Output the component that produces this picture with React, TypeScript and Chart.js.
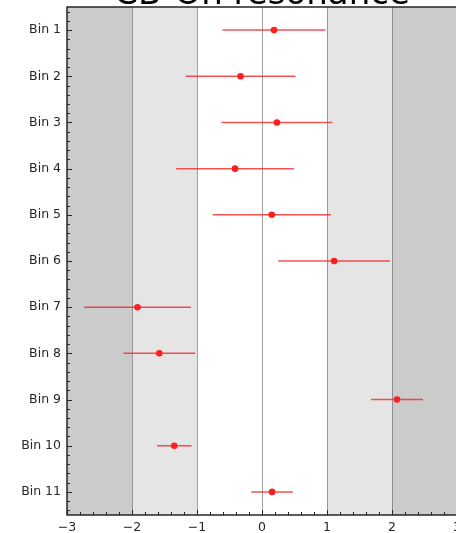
import React, { useEffect, useRef } from 'react';
import { Chart, registerables } from 'chart.js';

Chart.register(...registerables);

const titleText = 'CB-On resonance';
const binLabels = ['Bin 1', 'Bin 2', 'Bin 3', 'Bin 4', 'Bin 5', 'Bin 6', 'Bin 7', 'Bin 8', 'Bin 9', 'Bin 10', 'Bin 11'];
const binIndex = [1, 2, 3, 4, 5, 6, 7, 8, 9, 10, 11];
const centers = [0.185, -0.33, 0.23, -0.415, 0.15, 1.11, -1.915, -1.58, 2.077, -1.35, 0.155];
const errors = [0.792, 0.845, 0.855, 0.905, 0.91, 0.86, 0.823, 0.553, 0.4, 0.265, 0.32];
const xTickValues = [-3, -2, -1, 0, 1, 2, 3];

const FONT = '"DejaVu Sans", sans-serif';

const bandsPlugin = {
  id: 'bands',
  beforeDraw(chart: any) {
    const { ctx, chartArea, scales } = chart;
    const xs = scales.x;
    const bands = [
      [-3, -2, '#cbcbcb'],
      [-2, -1, '#e5e5e5'],
      [1, 2, '#e5e5e5'],
      [2, 3, '#cbcbcb'],
    ];
    ctx.save();
    ctx.fillStyle = '#ffffff';
    ctx.fillRect(chartArea.left, chartArea.top, chartArea.right - chartArea.left, chartArea.bottom - chartArea.top);
    for (const [a, b, c] of bands as any) {
      const x1 = xs.getPixelForValue(a);
      const x2 = xs.getPixelForValue(b);
      ctx.fillStyle = c;
      ctx.fillRect(x1, chartArea.top, x2 - x1, chartArea.bottom - chartArea.top);
    }
    ctx.restore();
  },
};

const errorBarsPlugin = {
  id: 'errorBars',
  beforeDatasetsDraw(chart: any) {
    const { ctx, scales } = chart;
    ctx.save();
    ctx.strokeStyle = 'rgba(240,40,40,0.8)';
    ctx.lineWidth = 1.5;
    centers.forEach((c, i) => {
      const y = scales.y.getPixelForValue(binIndex[i]);
      const x1 = scales.x.getPixelForValue(c - errors[i]);
      const x2 = scales.x.getPixelForValue(c + errors[i]);
      ctx.beginPath();
      ctx.moveTo(x1, y);
      ctx.lineTo(x2, y);
      ctx.stroke();
    });
    ctx.restore();
  },
};

const framePlugin = {
  id: 'frame',
  afterDraw(chart: any) {
    const { ctx, chartArea, scales } = chart;
    const { left, right, top, bottom } = chartArea;
    ctx.save();
    ctx.strokeStyle = '#262626';
    ctx.lineWidth = 1;
    for (let k = -15; k <= 15; k++) {
      const v = k / 5;
      const x = Math.round(scales.x.getPixelForValue(v)) + 0.5;
      const len = k % 5 === 0 ? 5 : 3;
      ctx.beginPath();
      ctx.moveTo(x, bottom);
      ctx.lineTo(x, bottom - len);
      ctx.stroke();
    }
    for (let k = 3; k <= 57; k++) {
      const v = k / 5;
      const y = Math.round(scales.y.getPixelForValue(v)) + 0.5;
      const len = k % 5 === 0 ? 5 : 3;
      ctx.beginPath();
      ctx.moveTo(left, y);
      ctx.lineTo(left + len, y);
      ctx.stroke();
    }
    ctx.lineWidth = 1.5;
    ctx.strokeRect(left, top, right - left, bottom - top);
    ctx.fillStyle = '#000000';
    ctx.font = '34px ' + FONT;
    ctx.textAlign = 'center';
    ctx.textBaseline = 'alphabetic';
    ctx.fillText(titleText, (left + right) / 2, top - 3);
    ctx.restore();
  },
};

export default function App() {
  const ref = useRef<HTMLCanvasElement | null>(null);

  useEffect(() => {
    if (!ref.current) return;
    const chart = new Chart(ref.current, {
      type: 'scatter',
      data: {
        datasets: [
          {
            data: centers.map((c, i) => ({ x: c, y: binIndex[i] })),
            backgroundColor: 'rgb(255,30,30)',
            borderColor: 'rgb(255,30,30)',
            pointRadius: 3.3,
            pointBorderWidth: 0,
          },
        ],
      },
      options: {
        responsive: false,
        animation: false,
        devicePixelRatio: 1,
        layout: { padding: { top: 7, right: 23, left: 0, bottom: 0 } },
        plugins: {
          legend: { display: false },
          title: { display: false },
          tooltip: { enabled: false },
        },
        scales: {
          x: {
            type: 'linear',
            min: -3,
            max: 3,
            afterBuildTicks: (s: any) => {
              s.ticks = xTickValues.map((v) => ({ value: v }));
            },
            afterFit: (s: any) => {
              s.height = 18;
              s.paddingLeft = 0;
              s.paddingRight = 0;
            },
            ticks: {
              color: '#262626',
              font: { family: FONT, size: 12.5 },
              padding: 5,
              maxRotation: 0,
              autoSkip: false,
              callback: (v: any) => (v < 0 ? '\u2212' + Math.abs(v) : String(v)),
            },
            grid: {
              drawTicks: false,
              lineWidth: 1,
              color: (c: any) =>
                Math.abs(c.tick?.value) === 3 ? 'rgba(0,0,0,0)' : 'rgba(100,100,100,0.6)',
            },
            border: { display: false },
          },
          y: {
            type: 'linear',
            min: 0.5,
            max: 11.5,
            reverse: true,
            afterBuildTicks: (s: any) => {
              s.ticks = binIndex.map((v) => ({ value: v }));
            },
            afterFit: (s: any) => {
              s.width = 67;
              s.paddingTop = 0;
              s.paddingBottom = 0;
            },
            ticks: {
              color: '#262626',
              font: { family: FONT, size: 12.5 },
              padding: 6,
              autoSkip: false,
              callback: (v: any) => binLabels[binIndex.indexOf(Number(v))] ?? '',
            },
            grid: { display: false, drawTicks: false },
            border: { display: false },
          },
        },
      },
      plugins: [bandsPlugin, errorBarsPlugin, framePlugin],
    });
    return () => chart.destroy();
  }, []);

  return (
    <div
      style={{
        position: 'fixed',
        left: 0,
        top: 0,
        width: 456,
        height: 533,
        overflow: 'hidden',
        background: '#ffffff',
      }}
    >
      <canvas ref={ref} width={480} height={533} style={{ display: 'block' }} />
    </div>
  );
}
